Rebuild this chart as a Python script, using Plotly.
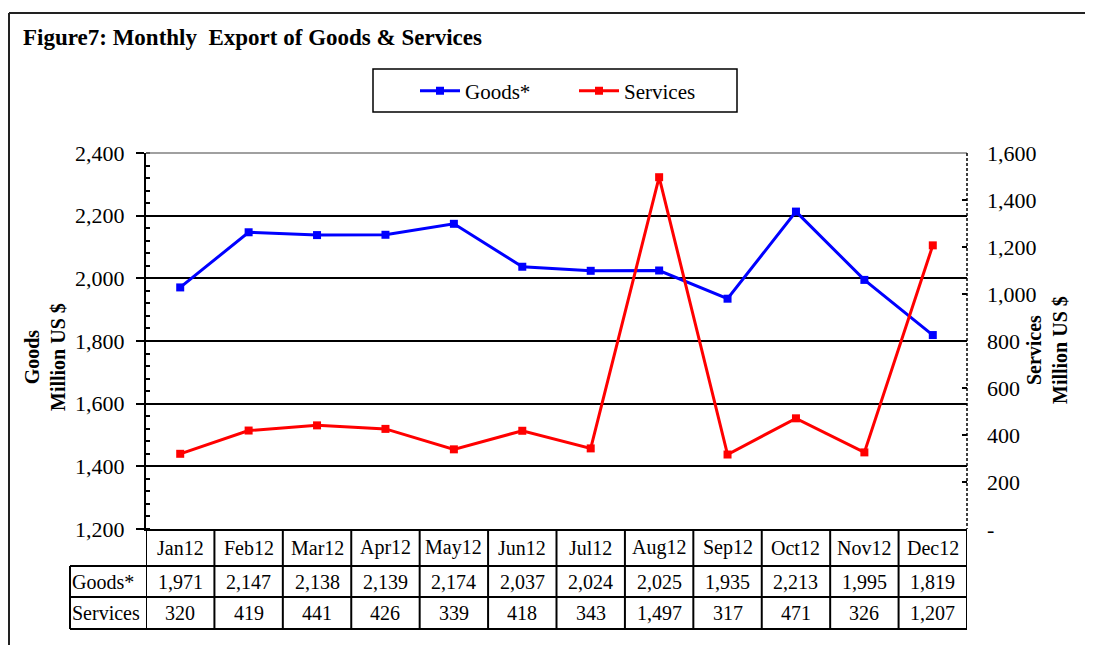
import plotly.graph_objects as go

W, H = 1093, 645
OX, OY = 8, 8            # page body offset of the plot div
FW, FH = W - OX, H - OY  # figure size so that it fits in the window

categories = ["Jan12", "Feb12", "Mar12", "Apr12", "May12", "Jun12",
              "Jul12", "Aug12", "Sep12", "Oct12", "Nov12", "Dec12"]
goods = [1971, 2147, 2138, 2139, 2174, 2037, 2024, 2025, 1935, 2213, 1995, 1819]
services = [320, 419, 441, 426, 339, 418, 343, 1497, 317, 471, 326, 1207]

left_ticks = [1200, 1400, 1600, 1800, 2000, 2200, 2400]
right_ticks = [0, 200, 400, 600, 800, 1000, 1200, 1400, 1600]
right_ticktext = ["-", "200", "400", "600", "800", "1,000", "1,200", "1,400", "1,600"]

FONT = "Liberation Serif, Times New Roman, serif"


def px(x):
    return (x - OX) / FW


def py(y):
    return 1 - (y - OY) / FH


# plot area in (screen) pixels
PL, PR, PT, PB = 146, 967, 153, 529
ROW1, ROW2, ROW3 = 566, 597, 629
LABEL_LEFT = 70

fig = go.Figure()
fig.add_trace(go.Scatter(
    x=categories, y=goods, name="Goods*", mode="lines+markers",
    line=dict(color="#0000FF", width=3),
    marker=dict(symbol="square", size=8, color="#0000FF"),
    yaxis="y"))
fig.add_trace(go.Scatter(
    x=categories, y=services, name="Services", mode="lines+markers",
    line=dict(color="#FF0000", width=3),
    marker=dict(symbol="square", size=8, color="#FF0000"),
    yaxis="y2"))

shapes = []
annotations = []

# outer frame (left and top)
shapes.append(dict(type="line", xref="paper", yref="paper",
                   x0=px(9), x1=px(9), y0=py(13), y1=py(H + 5),
                   line=dict(color="#222", width=2)))
shapes.append(dict(type="line", xref="paper", yref="paper",
                   x0=px(9), x1=px(W + 5), y0=py(13), y1=py(13),
                   line=dict(color="#222", width=2)))

# top border of plot area (gray)
shapes.append(dict(type="line", xref="paper", yref="paper",
                   x0=px(PL), x1=px(PR), y0=py(PT), y1=py(PT),
                   line=dict(color="#808080", width=1.5)))
# dashed right axis line
shapes.append(dict(type="line", xref="paper", yref="paper",
                   x0=px(PR), x1=px(PR), y0=py(PT), y1=py(PB),
                   line=dict(color="black", width=1.5, dash="3px,2px")))

# legend box
shapes.append(dict(type="rect", xref="paper", yref="paper",
                   x0=px(373), x1=px(737), y0=py(69), y1=py(112),
                   line=dict(color="black", width=1.5), fillcolor="white", layer="below"))

# data table
n = len(categories)
for i in range(n + 1):
    shapes.append(dict(type="line", xref="x", yref="paper",
                       x0=i - 0.5, x1=i - 0.5, y0=py(PB), y1=py(ROW3),
                       line=dict(color="black", width=2)))
for yy in (ROW1, ROW2, ROW3):
    shapes.append(dict(type="line", xref="paper", yref="paper",
                       x0=px(LABEL_LEFT), x1=px(PR), y0=py(yy), y1=py(yy),
                       line=dict(color="black", width=2)))
shapes.append(dict(type="line", xref="paper", yref="paper",
                   x0=px(LABEL_LEFT), x1=px(LABEL_LEFT), y0=py(ROW1), y1=py(ROW3),
                   line=dict(color="black", width=2)))

TFS = 20
for i, c in enumerate(categories):
    annotations.append(dict(x=c, xref="x", y=py((PB + ROW1) / 2), yref="paper",
                            text=c, showarrow=False, xanchor="center", yanchor="middle",
                            font=dict(family=FONT, size=TFS, color="black")))
    annotations.append(dict(x=c, xref="x", y=py((ROW1 + ROW2) / 2), yref="paper",
                            text=f"{goods[i]:,}", showarrow=False, xanchor="center", yanchor="middle",
                            font=dict(family=FONT, size=TFS, color="black")))
    annotations.append(dict(x=c, xref="x", y=py((ROW2 + ROW3) / 2), yref="paper",
                            text=f"{services[i]:,}", showarrow=False, xanchor="center", yanchor="middle",
                            font=dict(family=FONT, size=TFS, color="black")))
annotations.append(dict(x=px(LABEL_LEFT), xref="paper", y=py((ROW1 + ROW2) / 2), yref="paper",
                        text="Goods*", showarrow=False, xanchor="left", yanchor="middle",
                        font=dict(family=FONT, size=TFS, color="black")))
annotations.append(dict(x=px(LABEL_LEFT), xref="paper", y=py((ROW2 + ROW3) / 2), yref="paper",
                        text="Services", showarrow=False, xanchor="left", yanchor="middle",
                        font=dict(family=FONT, size=TFS, color="black")))

# title
annotations.append(dict(x=px(21), xref="paper", y=py(38), yref="paper",
                        text="<b>Figure7: Monthly  Export of Goods & Services</b>",
                        showarrow=False, xanchor="left", yanchor="middle",
                        font=dict(family=FONT, size=23, color="black")))

# axis titles
annotations.append(dict(x=px(45), xref="paper", y=py(357), yref="paper",
                        text="<b>Goods<br>Million US $</b>", textangle=-90,
                        showarrow=False, xanchor="center", yanchor="middle",
                        font=dict(family=FONT, size=20, color="black")))
annotations.append(dict(x=px(1047), xref="paper", y=py(350), yref="paper",
                        text="<b>Services<br>Million US $</b>", textangle=-90,
                        showarrow=False, xanchor="center", yanchor="middle",
                        font=dict(family=FONT, size=20, color="black")))

fig.update_layout(
    width=FW, height=FH, autosize=False,
    margin=dict(l=0, r=0, t=0, b=0, pad=0, autoexpand=False),
    paper_bgcolor="white", plot_bgcolor="white",
    font=dict(family=FONT, color="black"),
    showlegend=True,
    legend=dict(orientation="h", x=px(415), xanchor="left", y=py(91), yanchor="middle",
                bgcolor="rgba(0,0,0,0)", borderwidth=0,
                font=dict(family=FONT, size=21, color="black"),
                entrywidth=104, entrywidthmode="pixels", itemwidth=40),
    xaxis=dict(domain=[px(PL), px(PR)], type="category", range=[-0.5, n - 0.5],
               showticklabels=False, ticks="", showgrid=False, automargin=False,
               showline=True, linecolor="black", linewidth=2, zeroline=False),
    yaxis=dict(domain=[py(PB), py(PT)], range=[1200, 2400], tickvals=left_ticks,
               tickformat=",", ticks="outside", ticklen=8, tickwidth=2, tickcolor="black",
               ticklabelstandoff=7, automargin=False,
               minor=dict(dtick=40, tick0=1200, ticks="inside", ticklen=4, tickwidth=1.5,
                          tickcolor="black", showgrid=False),
               showgrid=True, gridcolor="black", gridwidth=1.5,
               showline=True, linecolor="black", linewidth=2, zeroline=False,
               tickfont=dict(family=FONT, size=22, color="black")),
    yaxis2=dict(overlaying="y", side="right", anchor="x", range=[0, 1600],
                tickvals=right_ticks, ticktext=right_ticktext,
                ticks="inside", ticklen=5, tickwidth=1.5, tickcolor="black",
                ticklabelstandoff=19, automargin=False,
                showgrid=False, showline=False, zeroline=False,
                tickfont=dict(family=FONT, size=22, color="black")),
    shapes=shapes,
    annotations=annotations,
)

fig.write_html("out.html")
